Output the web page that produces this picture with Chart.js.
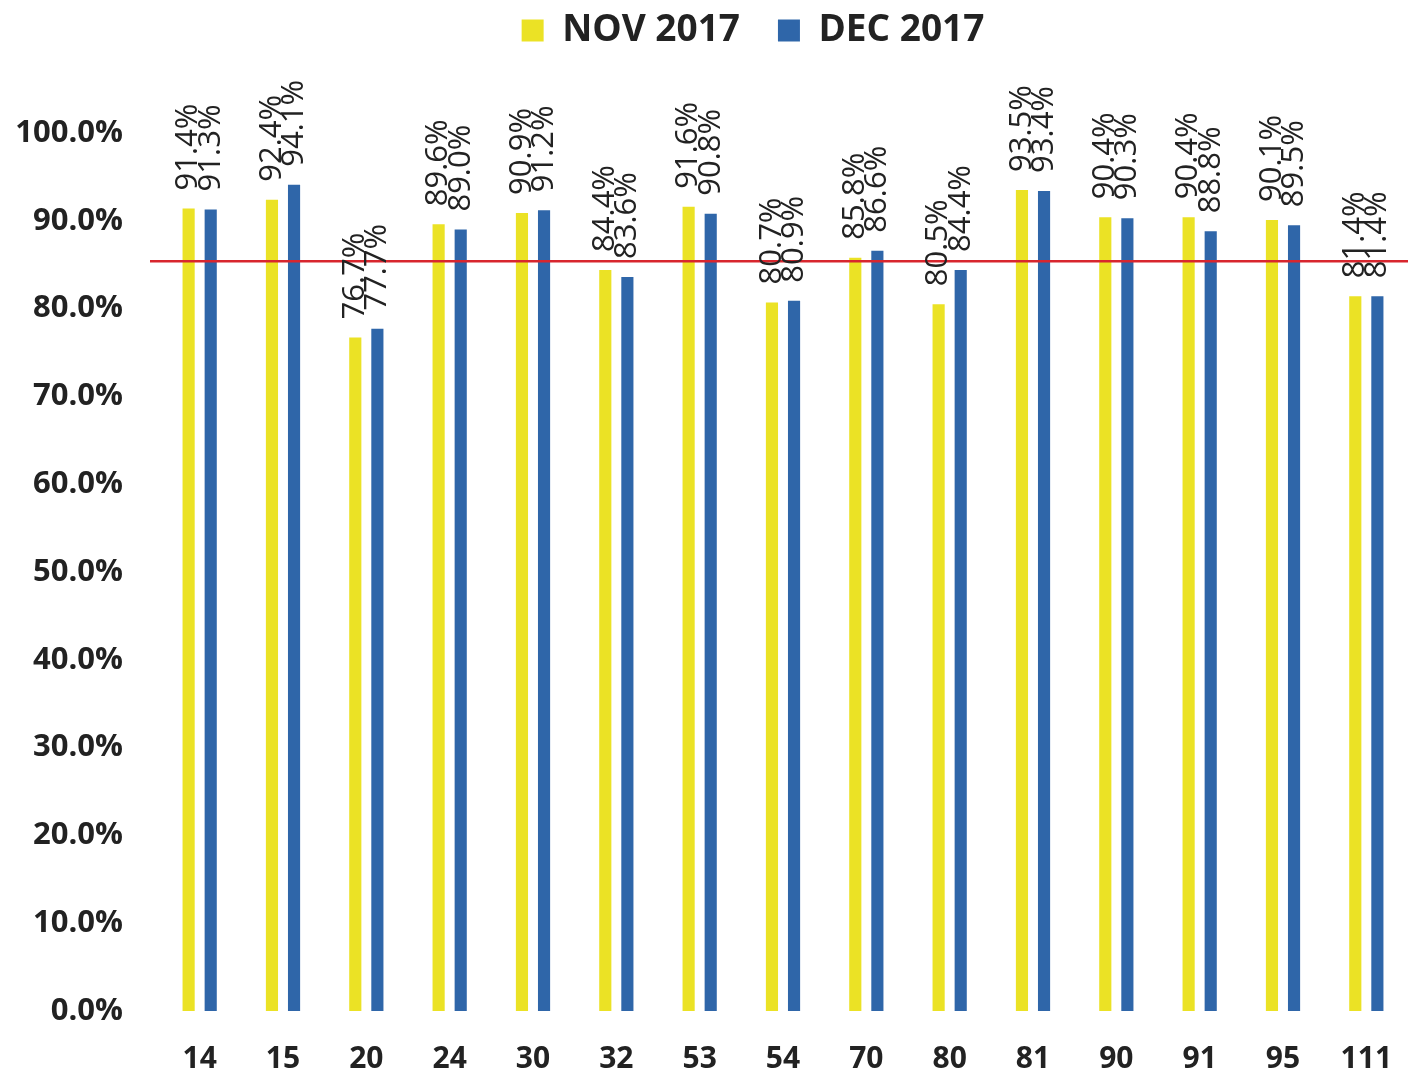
<!DOCTYPE html>
<html>
<head>
<meta charset="utf-8">
<script src="https://cdn.jsdelivr.net/npm/chart.js@4.4.1/dist/chart.umd.min.js"></script>
<style>
    html, body { margin: 0; padding: 0; background: #ffffff; }
    #wrap { width: 1408px; height: 1078px; position: relative; }
</style>
</head>
<body>
<div id="wrap"><canvas id="chart"></canvas></div>
<script>
// Данные графика
const categories = ['14', '15', '20', '24', '30', '32', '53', '54', '70', '80', '81', '90', '91', '95', '111'];
const nov2017 = [91.4, 92.4, 76.7, 89.6, 90.9, 84.4, 91.6, 80.7, 85.8, 80.5, 93.5, 90.4, 90.4, 90.1, 81.4];
const dec2017 = [91.3, 94.1, 77.7, 89.0, 91.2, 83.6, 90.8, 80.9, 86.6, 84.4, 93.4, 90.3, 88.8, 89.5, 81.4];
const seriesLabels = ['NOV 2017', 'DEC 2017'];
const targetLevel = 85.4;

const yellow = '#ebe225';
const blue = '#2f66a9';
const textColor = '#222222';

// Высота легенды задаёт верх области графика, легенда чуть смещена вправо
const legendHeight = {
    id: 'legendHeight',
    afterInit(chart) {
        const legend = chart.legend;
        if (!legend) return;
        const fit = legend.fit.bind(legend);
        legend.fit = function () {
            fit();
            this.height = 159;
        };
    },
    afterLayout(chart) {
        if (!chart.legend) return;
        chart.legend.left += 46;
        chart.legend.right += 46;
    },
};

// Подписи значений над столбцами (повернуты на 90°)
const valueLabels = {
    id: 'valueLabels',
    afterDatasetsDraw(chart) {
        const ctx = chart.ctx;
        ctx.save();
        ctx.font = '400 31px "Open Sans"';
        ctx.fillStyle = textColor;
        ctx.textAlign = 'left';
        ctx.textBaseline = 'middle';
        chart.data.datasets.forEach((ds, i) => {
            const meta = chart.getDatasetMeta(i);
            meta.data.forEach((bar, j) => {
                ctx.save();
                ctx.translate(bar.x, bar.y - 18);
                ctx.rotate(-Math.PI / 2);
                ctx.fillText(ds.data[j].toFixed(1) + '%', 0, 0);
                ctx.restore();
            });
        });
        ctx.restore();
    },
};

// Красная линия целевого уровня
const targetLine = {
    id: 'targetLine',
    afterDatasetsDraw(chart) {
        const { ctx, chartArea, scales } = chart;
        const y = scales.y.getPixelForValue(targetLevel);
        ctx.save();
        ctx.strokeStyle = '#d8262e';
        ctx.lineWidth = 2.5;
        ctx.beginPath();
        ctx.moveTo(chartArea.left - 8, y);
        ctx.lineTo(chart.width, y);
        ctx.stroke();
        ctx.restore();
    },
};

new Chart(document.getElementById('chart'), {
    type: 'bar',
    data: {
        labels: categories,
        datasets: [
            {
                label: seriesLabels[0],
                data: nov2017,
                backgroundColor: yellow,
                categoryPercentage: 0.53,
                barPercentage: 0.55,
            },
            {
                label: seriesLabels[1],
                data: dec2017,
                backgroundColor: blue,
                categoryPercentage: 0.53,
                barPercentage: 0.55,
            },
        ],
    },
    options: {
        responsive: true,
        maintainAspectRatio: false,
        animation: false,
        layout: {
            padding: { top: -26, right: -6, left: 0, bottom: 0 },
        },
        plugins: {
            tooltip: { enabled: false },
            legend: {
                display: true,
                position: 'top',
                labels: {
                    color: textColor,
                    font: { family: 'Open Sans', size: 37, weight: 'bold' },
                    boxWidth: 22,
                    boxHeight: 22,
                    padding: 38,
                },
            },
        },
        scales: {
            x: {
                grid: { display: false, drawTicks: false },
                border: { display: false },
                ticks: {
                    color: textColor,
                    padding: 30,
                    font: { family: 'Open Sans', size: 30, weight: 'bold' },
                },
                afterFit(scale) {
                    scale.height = 67;
                    scale.paddingLeft = 0;
                    scale.paddingRight = 0;
                },
            },
            y: {
                min: 0,
                max: 100,
                grid: { display: false, drawTicks: false },
                border: { display: false },
                ticks: {
                    stepSize: 10,
                    color: textColor,
                    padding: 35,
                    font: { family: 'Open Sans', size: 31, weight: 'bold' },
                    callback: (value) => value.toFixed(1) + '%',
                },
                afterFit(scale) { scale.width = 158; },
            },
        },
    },
    plugins: [legendHeight, targetLine, valueLabels],
});
</script>
</body>
</html>
